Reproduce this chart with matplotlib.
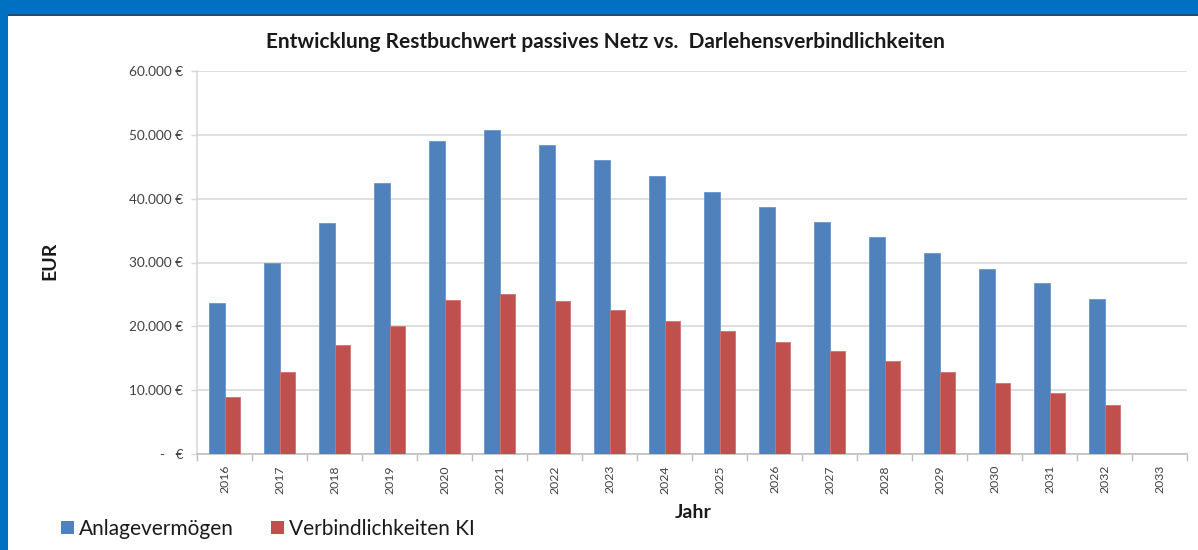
import matplotlib
matplotlib.use("Agg")
import matplotlib.pyplot as plt
from matplotlib.patches import Rectangle, Patch
import numpy as np

years = [str(y) for y in range(2016, 2034)]
anlage = [23600, 29900, 36200, 42500, 49100, 50800, 48400, 46000, 43600,
          41100, 38700, 36400, 34000, 31500, 29000, 26800, 24300, 0]
verb = [9000, 12800, 17000, 20100, 24100, 25100, 23900, 22500, 20900,
        19300, 17600, 16100, 14500, 12800, 11200, 9500, 7700, 0]
yticks = [0, 10000, 20000, 30000, 40000, 50000, 60000]

plt.rcParams['font.family'] = ['Lato', 'DejaVu Sans']

W, H = 1198, 550
fig = plt.figure(figsize=(W / 100, H / 100), dpi=100)
fig.patch.set_facecolor('white')

# blue frame (top and left)
fig.patches.append(Rectangle((0, 1 - 14 / H), 1, 14 / H, transform=fig.transFigure,
                             facecolor='#0070C0', edgecolor='none', zorder=0))
fig.patches.append(Rectangle((0, 1 - 15.5 / H), 1, 1.5 / H, transform=fig.transFigure,
                             facecolor='#1F4E79', edgecolor='none', zorder=0))
fig.patches.append(Rectangle((0, 0), 8 / W, 1, transform=fig.transFigure,
                             facecolor='#0070C0', edgecolor='none', zorder=0))

ax = fig.add_axes([197 / W, (H - 454) / H, (1187 - 197) / W, (454 - 71) / H])

x = np.arange(len(years))
w = 0.29
ax.bar(x - w / 2, anlage, width=w, color='#4F81BD', edgecolor='#6A95C9', linewidth=0.6,
       label='Anlagevermögen', zorder=3)
ax.bar(x + w / 2, verb, width=w, color='#C0504D', edgecolor='#CF7270', linewidth=0.6,
       label='Verbindlichkeiten KI', zorder=3)

ax.set_xlim(-0.5, len(years) - 0.5)
ax.set_ylim(0, 60000)
ax.set_yticks(yticks)

def fmt(v):
    if v == 0:
        return '-   €'
    return f"{v:,.0f} €".replace(',', '.')

ax.set_yticklabels([fmt(v) for v in yticks], fontsize=9.8, color='#404040')
ax.yaxis.grid(True, color='#D9D9D9', linewidth=1.2, zorder=0)
ax.set_axisbelow(True)

ax.set_xticks(np.arange(len(years) + 1) - 0.5)
ax.set_xticklabels([])
ax.set_xticks(x, minor=True)
ax.set_xticklabels(years, minor=True, rotation=90, fontsize=8.8, color='#404040')
ax.tick_params(axis='x', which='major', length=5, color='#BFBFBF', width=1)
ax.tick_params(axis='x', which='minor', length=0, pad=8)
ax.tick_params(axis='y', length=4, color='#D9D9D9', width=1, pad=6)

for s in ['top', 'right']:
    ax.spines[s].set_visible(False)
ax.spines['left'].set_color('#D9D9D9')
ax.spines['bottom'].set_color('#BFBFBF')
ax.spines['left'].set_linewidth(1.2)
ax.spines['bottom'].set_linewidth(1.2)

fig.text(605 / W, 1 - 42 / H, 'Entwicklung Restbuchwert passives Netz vs.  Darlehensverbindlichkeiten',
         ha='center', va='center', fontsize=15, fontweight='bold', color='#1a1a1a')
fig.text(50 / W, 1 - 261 / H, 'EUR', rotation=90, ha='center', va='center',
         fontsize=14, fontweight='bold', color='#1a1a1a')
fig.text(693 / W, 1 - 513 / H, 'Jahr', ha='center', va='center',
         fontsize=14, fontweight='bold', color='#1a1a1a')

handles = [Patch(facecolor='#4F81BD', edgecolor='none'),
           Patch(facecolor='#C0504D', edgecolor='none')]
fig.legend(handles, ['Anlagevermögen', 'Verbindlichkeiten KI'], loc='center left',
           bbox_to_anchor=(46 / W, 1 - 529 / H), ncol=2, frameon=False,
           fontsize=15, handlelength=0.62, handleheight=0.62, handletextpad=0.25,
           columnspacing=1.8, labelcolor='#1a1a1a', borderpad=0.2)

fig.savefig('out.png', dpi=100)
